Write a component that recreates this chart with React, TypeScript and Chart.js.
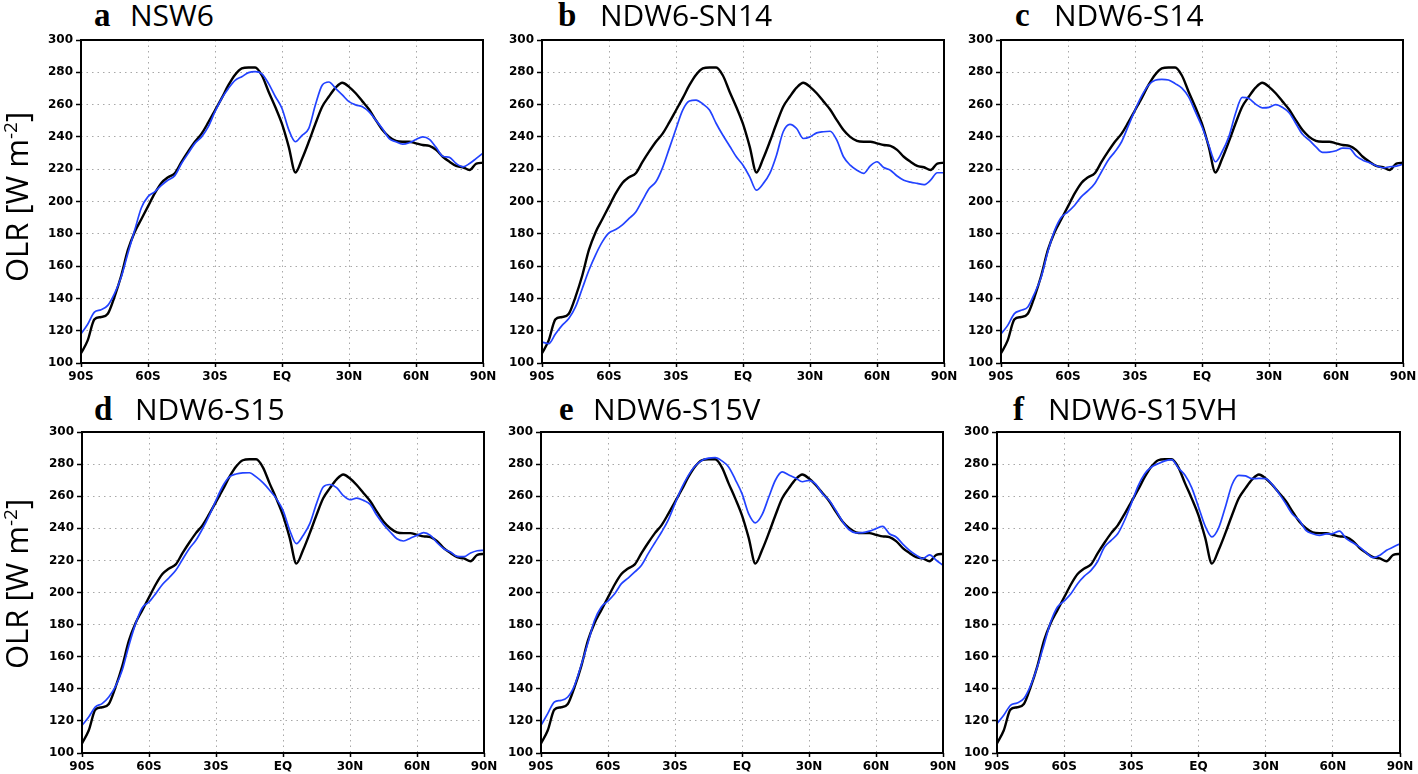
import React, { useEffect, useRef } from "react";
import { Chart, registerables } from "chart.js";

Chart.register(...registerables);

// ---------- DATA ----------
const latitudes = [
  -90, -87, -84, -81, -78, -75, -72, -69, -66, -63, -60, -57, -54, -51, -48, -45, -42, -39, -36, -33,
  -30, -27, -24, -21, -18, -15, -12, -9, -6, -3, 0, 3, 6, 9, 12, 15, 18, 21, 24, 27,
  30, 33, 36, 39, 42, 45, 48, 51, 54, 57, 60, 63, 66, 69, 72, 75, 78, 81, 84, 87, 90,
];

const obsOLR = [
  106, 114, 127, 128.5, 130.5, 141, 154, 170, 181, 189, 197, 205, 211.5, 215, 217.5, 224.5, 231, 237, 242, 249,
  256.5, 264, 272, 278.5, 282.4, 283, 283, 278, 268, 258.5, 248, 234, 218, 226.5, 237, 248.3, 258.7, 265, 270.5, 273.5,
  271, 267, 262, 257, 250.4, 244.2, 240, 237.5, 237, 237, 236, 235, 234.5, 232, 227.7, 224.6, 222, 221.2, 219.5, 223.5, 224,
];

const nsw6 = [
  118, 124, 131.5, 133, 135.7, 143, 153.3, 168, 182, 196, 203, 206, 210, 213.3, 216, 223.5, 229.8, 236, 240, 246.3,
  255.6, 263.8, 270, 275, 277.3, 279.8, 280.4, 279, 273, 265, 257.6, 244.5, 237, 241, 245.3, 260, 272, 274, 270, 266,
  261.8, 259.8, 258.7, 255.5, 250.4, 245, 239, 237, 235.5, 236.4, 238.4, 240, 238.5, 233.5, 228, 227.3, 223.5, 221.5, 223.5, 226.7, 230,
];

const ndw6SN14 = [
  113, 112, 118, 123.3, 127.5, 134.7, 146, 157.4, 167, 175, 180.5, 182.6, 185.5, 189.5, 193.5, 200.8, 208, 212.2, 221, 232.9,
  245, 256.6, 262.2, 262.8, 260.4, 256.6, 248.3, 241, 234.4, 227.7, 222.5, 215.3, 207, 211, 217.4, 228.7, 243.2, 247.8, 245.2, 239,
  240, 242.5, 243.2, 243.5, 238, 227.7, 222.5, 219.4, 217.4, 222, 224.6, 221, 219.4, 215.8, 213.2, 212, 211.2, 210.4, 213.2, 217.8, 217.8,
];

const ndw6S14 = [
  118, 123.3, 130.6, 132.6, 134.7, 143, 153.3, 169, 182, 190.2, 193.6, 197.7, 203, 206.7, 211.2, 218.4, 225.6, 230.8, 237, 246.8,
  256.6, 265.4, 272, 275.1, 275.6, 275.2, 273, 270.2, 264.8, 255.6, 246.3, 235, 224.6, 230.8, 240, 254.5, 264.5, 263.8, 260.3, 258,
  258.3, 260, 258.3, 255, 248.3, 241.6, 238, 233.8, 230.4, 230.6, 231.4, 233, 232.9, 228.2, 225.6, 224, 222.1, 220.9, 221.5, 221.9, 223.1,
];

const ndw6S15 = [
  117.2, 122.4, 128.7, 130.8, 134.9, 141.5, 151.5, 167, 180.6, 190.5, 194.1, 199.3, 205, 209.2, 213.8, 220.6, 227.3, 232.5, 239.8, 248.1,
  257.4, 266.2, 272, 273.8, 274.5, 274.6, 272, 268.4, 263.7, 258.5, 251.2, 238.8, 230.4, 235.5, 242.9, 255.4, 265.7, 267.3, 265.3, 260.4,
  257.8, 258.8, 257.4, 254.9, 248.1, 242.4, 237.7, 233.5, 232.1, 233.8, 235.6, 237.3, 235.6, 231, 227.3, 225.2, 222.5, 222.3, 224.6, 226, 226.3,
];

const ndw6S15V = [
  117.2, 124.5, 131.8, 132.8, 134.9, 142, 154.6, 168.5, 182.7, 191, 194.7, 199.2, 205.5, 209, 212.8, 217, 224.2, 231, 237.7, 245.3,
  255.4, 265.2, 273, 278.8, 282.3, 283.7, 284, 282, 278.2, 270.4, 261.6, 249, 243.4, 248.5, 259.5, 270.1, 275.1, 273.2, 271.3, 269,
  269.9, 267.5, 261.6, 257.5, 251.2, 244.3, 239.1, 237.2, 237.3, 238.2, 239.8, 241.2, 236.6, 234.6, 230.2, 226.3, 223.3, 221.1, 223.5, 220.1, 216.9,
];

const ndw6S15VH = [
  118.3, 123.5, 129.7, 131.2, 133.9, 142, 153.6, 167.5, 181.7, 191, 194.7, 199.2, 205.5, 210.2, 213.8, 219.5, 228.3, 232.5, 236.7, 245,
  255.4, 266.3, 274, 278.2, 280.3, 282, 282.8, 277.6, 273, 265.2, 253.3, 241.3, 234.6, 240.3, 253.3, 267.3, 273, 272.7, 270.9, 271.1,
  270.9, 267.2, 261.6, 255.3, 248.7, 245, 238.7, 236.6, 235.6, 236.5, 236.7, 238.3, 233.5, 231, 228.3, 224.7, 221.7, 223.2, 226.3, 228.3, 230.4,
];

const xTickValues = [-90, -60, -30, 0, 30, 60, 90];
const xTickLabels = ["90S", "60S", "30S", "EQ", "30N", "60N", "90N"];
const panelLetters = ["a", "b", "c", "d", "e", "f"];
const panelNames = ["NSW6", "NDW6-SN14", "NDW6-S14", "NDW6-S15", "NDW6-S15V", "NDW6-S15VH"];
const modelSeries = [nsw6, ndw6SN14, ndw6S14, ndw6S15, ndw6S15V, ndw6S15VH];

// ---------- LAYOUT (positions only) ----------
const plotBoxes = [
  { l: 81, r: 483, t: 40, b: 363, letterX: 94, nameX: 130, baseline: 27 },
  { l: 542, r: 944, t: 40, b: 363, letterX: 558, nameX: 600, baseline: 27 },
  { l: 1001, r: 1403, t: 40, b: 363, letterX: 1015, nameX: 1054, baseline: 27 },
  { l: 82, r: 484, t: 432, b: 753, letterX: 94, nameX: 135, baseline: 421 },
  { l: 541, r: 943, t: 432, b: 753, letterX: 559, nameX: 593, baseline: 421 },
  { l: 997, r: 1400, t: 432, b: 753, letterX: 1013, nameX: 1048, baseline: 421 },
];

const AX_W = 50;
const AX_H = 26;
const PAD_T = 12;
const PAD_R = 18;

const tickFont = { family: '"DejaVu Sans", "Liberation Sans", sans-serif', size: 12, weight: "bold" as const };

const framePlugin = {
  id: "frame",
  afterDraw(chart: any) {
    const { ctx, chartArea } = chart;
    const { left, top, right, bottom } = chartArea;
    ctx.save();
    ctx.strokeStyle = "#000";
    ctx.lineWidth = 2;
    ctx.strokeRect(left, top, right - left, bottom - top);
    ctx.restore();
  },
};

function Panel({ idx }: { idx: number }) {
  const ref = useRef<HTMLCanvasElement>(null);
  const box = plotBoxes[idx];
  const w = box.r - box.l + AX_W + PAD_R;
  const h = box.b - box.t + PAD_T + AX_H;

  useEffect(() => {
    if (!ref.current) return;
    const model = modelSeries[idx];
    const chart = new Chart(ref.current, {
      type: "line",
      data: {
        datasets: [
          {
            data: latitudes.map((x, i) => ({ x, y: model[i] })),
            borderColor: "#2242ff",
            borderWidth: 1.7,
            pointRadius: 0,
            cubicInterpolationMode: "monotone",
            fill: false,
            order: 0,
          },
          {
            data: latitudes.map((x, i) => ({ x, y: obsOLR[i] })),
            borderColor: "#000000",
            borderWidth: 2.4,
            pointRadius: 0,
            cubicInterpolationMode: "monotone",
            fill: false,
            order: 1,
          },
        ],
      },
      options: {
        responsive: false,
        maintainAspectRatio: false,
        animation: false,
        devicePixelRatio: 1,
        layout: { padding: { top: PAD_T, right: PAD_R, left: 0, bottom: 0 } },
        plugins: { legend: { display: false }, tooltip: { enabled: false }, title: { display: false } },
        scales: {
          x: {
            type: "linear",
            min: -90,
            max: 90,
            afterFit: (s: any) => {
              s.height = AX_H;
            },
            ticks: {
              stepSize: 30,
              autoSkip: false,
              maxRotation: 0,
              minRotation: 0,
              padding: 3,
              color: "#000",
              font: tickFont,
              callback: (v: any) => {
                const k = xTickValues.indexOf(Number(v));
                return k >= 0 ? xTickLabels[k] : "";
              },
            },
            grid: {
              color: "#a8a8a8",
              lineWidth: 1,
              tickColor: "#000",
              tickLength: 4,
              tickWidth: 1.5,
              tickBorderDash: [],
              borderDash: [1.5, 4],
            } as any,
            border: { display: false, dash: [1.5, 4] },
          },
          y: {
            type: "linear",
            min: 100,
            max: 300,
            afterFit: (s: any) => {
              s.width = AX_W;
            },
            ticks: {
              stepSize: 20,
              padding: 3,
              color: "#000",
              font: tickFont,
            },
            grid: {
              color: "#a8a8a8",
              lineWidth: 1,
              tickColor: "#000",
              tickLength: 5,
              tickWidth: 1.5,
              tickBorderDash: [],
              borderDash: [1.5, 4],
            } as any,
            border: { display: false, dash: [1.5, 4] },
          },
        },
      } as any,
      plugins: [framePlugin],
    });
    return () => chart.destroy();
  }, [idx]);

  return (
    <canvas
      ref={ref}
      width={w}
      height={h}
      style={{ position: "absolute", left: box.l - AX_W, top: box.t - PAD_T, width: w, height: h }}
    />
  );
}

const nameFont = '"Open Sans", "Noto Sans", sans-serif';

function YLabel({ cy }: { cy: number }) {
  return (
    <div
      style={{
        position: "absolute",
        left: 16,
        top: cy,
        transform: "translate(-50%, -50%) rotate(-90deg)",
        whiteSpace: "nowrap",
        fontFamily: nameFont,
        fontSize: 31,
        lineHeight: "31px",
        color: "#000",
      }}
    >
      OLR [W m
      <sup style={{ fontSize: 19, verticalAlign: "0.55em", lineHeight: 0 }}>-2</sup>]
    </div>
  );
}

export default function App() {
  return (
    <div
      style={{
        position: "absolute",
        left: 0,
        top: 0,
        width: 1418,
        height: 774,
        background: "#fff",
        overflow: "hidden",
      }}
    >
      {plotBoxes.map((b, i) => (
        <React.Fragment key={i}>
          <div
            style={{
              position: "absolute",
              left: b.letterX,
              top: b.baseline - 27.6,
              fontFamily: '"Liberation Serif", "DejaVu Serif", serif',
              fontWeight: "bold",
              fontSize: 33,
              lineHeight: "33px",
              color: "#000",
              whiteSpace: "nowrap",
            }}
          >
            {panelLetters[i]}
          </div>
          <div
            style={{
              position: "absolute",
              left: b.nameX,
              top: b.baseline - 26.6,
              fontFamily: nameFont,
              fontSize: 30,
              lineHeight: "30px",
              color: "#000",
              whiteSpace: "nowrap",
            }}
          >
            {panelNames[i]}
          </div>
          <Panel idx={i} />
        </React.Fragment>
      ))}
      <YLabel cy={197} />
      <YLabel cy={584} />
    </div>
  );
}
